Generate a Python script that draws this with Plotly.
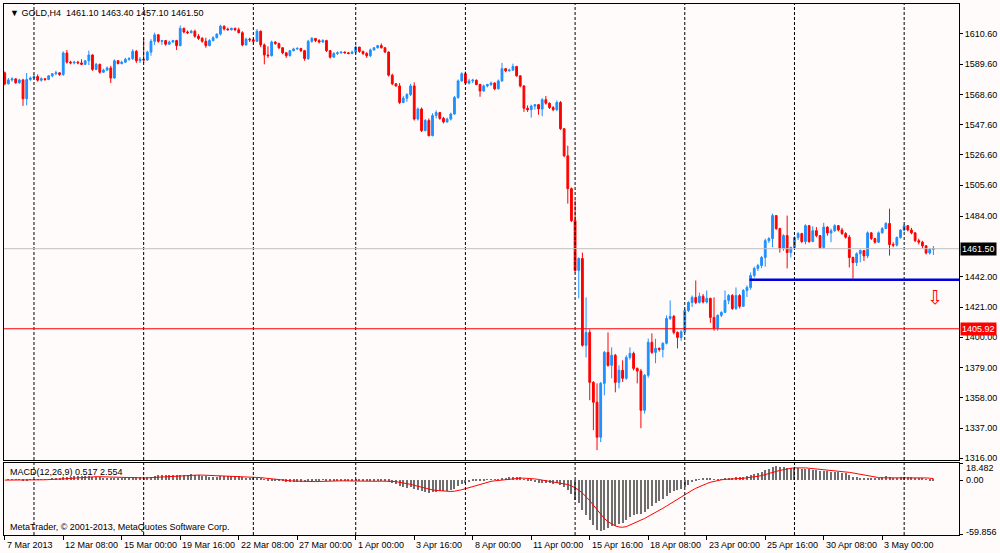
import plotly.graph_objects as go
import pandas as pd

# GOLD H4, 7 Mar 2013 .. 7 May 2013
first_open = 1583.6
close = [
    1576.0, 1578.7, 1579.4, 1576.7, 1578.7, 1565.6, 1579.0, 1580.0,
    # week of 11 Mar
    1581.0, 1578.5, 1579.5, 1579.0, 1581.5, 1583.0, 1583.6, 1582.5, 1597.4, 1591.0,
    1590.5, 1591.0, 1590.5, 1589.5, 1592.0, 1596.0, 1586.0, 1589.5, 1584.0, 1585.5,
    1587.0, 1580.0, 1592.0, 1590.0, 1591.0, 1593.0, 1593.5, 1598.5, 1592.0, 1593.0,
    # week of 18 Mar
    1592.5, 1598.0, 1605.5, 1610.0, 1605.5, 1606.0, 1603.5, 1605.0, 1606.0, 1602.5,
    1614.5, 1612.0, 1611.5, 1612.5, 1609.0, 1607.5, 1605.5, 1602.5, 1606.0, 1608.0,
    1610.5, 1616.0, 1614.0, 1613.5, 1614.5, 1613.5, 1611.5, 1603.0, 1607.0, 1606.5,
    # week of 25 Mar (Good Friday)
    1605.5, 1612.5, 1603.0, 1596.0, 1595.5, 1605.0, 1604.0, 1601.0, 1597.5, 1595.5,
    1599.0, 1600.2, 1600.5, 1599.0, 1593.5, 1605.5, 1607.5, 1606.0, 1605.0, 1606.0,
    1599.0, 1594.5, 1597.0, 1597.5, 1598.0, 1597.5, 1597.0, 1598.0,
    # week of 1 Apr
    1601.5, 1598.5, 1597.0, 1595.5, 1599.5, 1601.0, 1602.5, 1601.0, 1598.0, 1582.0,
    1576.0, 1574.5, 1563.0, 1566.0, 1568.5, 1574.5, 1551.5, 1558.5, 1543.5, 1550.5,
    1540.0, 1554.0, 1556.0, 1552.0, 1549.5, 1551.5, 1555.0, 1566.5, 1578.0, 1583.0,
    # week of 8 Apr
    1576.5, 1578.0, 1578.5, 1575.5, 1571.0, 1574.5, 1575.5, 1576.5, 1572.5, 1578.0,
    1586.5, 1585.0, 1585.5, 1588.0, 1581.5, 1574.5, 1559.0, 1558.0, 1560.5, 1561.5,
    1558.5, 1565.0, 1562.5, 1559.5, 1558.0, 1563.0, 1544.8, 1526.0, 1503.2, 1481.0,
    # week of 15 Apr
    1446.4, 1454.7, 1394.4, 1403.4, 1368.7, 1354.9, 1330.6, 1368.0, 1389.5, 1380.5,
    1387.5, 1368.7, 1377.1, 1371.5, 1386.0, 1388.8, 1378.4, 1376.5, 1349.3, 1373.6,
    1396.5, 1389.5, 1392.3, 1391.5, 1395.8, 1413.1, 1414.5, 1403.4, 1399.9, 1403.8,
    # week of 22 Apr
    1418.6, 1424.2, 1427.7, 1424.2, 1428.5, 1424.5, 1427.0, 1413.8, 1406.5, 1415.2,
    1417.3, 1425.6, 1429.0, 1420.0, 1429.0, 1421.5, 1432.5, 1434.6, 1442.9, 1447.8,
    1449.8, 1455.4, 1467.1, 1468.5, 1484.5, 1475.5, 1461.6, 1470.6, 1458.8, 1462.3,
    # week of 29 Apr
    1469.2, 1472.0, 1466.5, 1477.5, 1466.5, 1474.0, 1470.6, 1462.3, 1476.5, 1472.4,
    1474.0, 1477.5, 1474.5, 1472.0, 1469.5, 1455.4, 1451.9, 1458.0, 1460.2, 1456.5,
    1472.5, 1468.5, 1466.0, 1472.5, 1475.5, 1479.0, 1464.4, 1464.0, 1469.2, 1474.4,
    # week of 6 May
    1477.5, 1474.5, 1472.5, 1467.1, 1466.0, 1463.5, 1458.5, 1461.1, 1461.5,
]
high = [
    1584.5, 1580.0, 1580.5, 1580.0, 1579.5, 1579.5, 1583.5, 1581.0,
    1582.5, 1582.5, 1580.5, 1580.0, 1582.0, 1583.5, 1585.0, 1584.0, 1598.5, 1599.5,
    1592.0, 1592.0, 1592.0, 1593.0, 1592.5, 1599.0, 1596.5, 1590.5, 1590.0, 1586.5,
    1588.0, 1588.5, 1593.0, 1592.5, 1592.0, 1594.0, 1594.5, 1600.0, 1599.5, 1594.5,
    1607.5, 1599.0, 1607.0, 1611.5, 1610.5, 1606.5, 1606.5, 1606.0, 1606.5, 1606.5,
    1616.5, 1615.0, 1613.0, 1613.5, 1613.5, 1610.5, 1608.5, 1608.0, 1607.0, 1609.0,
    1611.0, 1617.0, 1616.5, 1615.0, 1615.0, 1615.0, 1615.0, 1612.5, 1608.0, 1608.0,
    1607.5, 1614.0, 1613.0, 1604.0, 1602.0, 1606.0, 1605.5, 1604.5, 1601.5, 1598.0,
    1599.5, 1601.0, 1601.5, 1601.0, 1599.5, 1606.5, 1608.5, 1607.5, 1607.0, 1607.0,
    1606.5, 1599.5, 1598.0, 1598.5, 1598.5, 1598.5, 1598.0, 1599.0,
    1602.5, 1601.5, 1599.0, 1598.0, 1600.5, 1601.5, 1603.0, 1604.0, 1601.5, 1598.5,
    1583.0, 1576.5, 1576.5, 1567.5, 1569.5, 1576.0, 1577.0, 1559.5, 1559.5, 1551.5,
    1552.0, 1555.5, 1557.5, 1556.5, 1553.0, 1552.5, 1556.0, 1567.5, 1579.0, 1584.0,
    1584.5, 1579.5, 1579.5, 1579.0, 1576.0, 1575.5, 1576.0, 1577.5, 1577.0, 1579.0,
    1590.5, 1587.0, 1586.5, 1590.0, 1588.5, 1582.0, 1575.0, 1561.0, 1561.5, 1562.0,
    1562.0, 1566.0, 1567.5, 1563.0, 1560.5, 1564.5, 1564.0, 1545.0, 1533.0, 1504.0,
    1495.0, 1455.5, 1458.8, 1427.7, 1405.5, 1369.5, 1368.0, 1369.0, 1390.5, 1403.4,
    1393.0, 1388.5, 1380.5, 1384.0, 1387.5, 1393.0, 1390.0, 1379.0, 1378.0, 1374.5,
    1399.1, 1402.7, 1399.0, 1393.0, 1396.5, 1415.2, 1425.6, 1415.5, 1404.0, 1405.0,
    1420.0, 1425.0, 1429.0, 1439.4, 1431.0, 1430.0, 1432.5, 1427.5, 1427.7, 1416.0,
    1418.0, 1432.5, 1430.0, 1430.0, 1434.6, 1430.0, 1433.5, 1436.0, 1445.0, 1449.0,
    1451.0, 1456.5, 1468.5, 1469.5, 1485.9, 1484.5, 1476.0, 1471.5, 1484.5, 1463.0,
    1470.0, 1473.0, 1472.5, 1478.5, 1478.0, 1477.0, 1476.5, 1471.0, 1479.5, 1477.0,
    1475.5, 1478.5, 1478.0, 1476.0, 1473.0, 1471.0, 1456.0, 1459.0, 1461.0, 1459.0,
    1473.5, 1473.0, 1469.0, 1473.5, 1476.5, 1480.0, 1489.3, 1466.0, 1470.0, 1475.0,
    1478.5, 1478.0, 1476.0, 1473.0, 1468.5, 1467.0, 1464.0, 1462.0, 1463.4,
]
low = [
    1575.0, 1575.5, 1577.5, 1576.0, 1576.0, 1560.7, 1561.0, 1578.0,
    1579.0, 1577.5, 1577.5, 1578.0, 1578.5, 1580.5, 1582.0, 1581.5, 1581.5, 1590.0,
    1589.5, 1589.5, 1589.5, 1589.0, 1589.0, 1589.0, 1585.0, 1585.5, 1583.0, 1583.5,
    1585.0, 1576.5, 1579.5, 1589.5, 1589.5, 1590.5, 1592.0, 1592.5, 1590.5, 1590.5,
    1590.5, 1592.0, 1595.5, 1603.0, 1604.5, 1603.0, 1602.5, 1603.0, 1604.5, 1599.5,
    1602.0, 1611.0, 1610.5, 1611.0, 1608.0, 1606.5, 1604.5, 1601.0, 1602.0, 1605.5,
    1607.5, 1609.5, 1613.0, 1613.0, 1613.0, 1612.5, 1611.0, 1602.0, 1602.5, 1605.0,
    1604.0, 1605.0, 1601.5, 1589.5, 1594.0, 1595.0, 1603.0, 1600.0, 1596.5, 1594.0,
    1595.0, 1598.5, 1599.5, 1598.0, 1592.0, 1592.5, 1604.5, 1605.0, 1604.0, 1604.5,
    1598.0, 1593.5, 1594.0, 1596.0, 1597.0, 1597.0, 1596.5, 1596.5,
    1597.0, 1597.5, 1596.0, 1594.0, 1594.5, 1599.0, 1600.5, 1600.5, 1597.5, 1581.0,
    1575.0, 1574.0, 1562.0, 1562.5, 1563.5, 1567.5, 1550.5, 1550.5, 1542.5, 1543.0,
    1539.5, 1539.5, 1552.0, 1551.0, 1548.5, 1549.0, 1550.5, 1554.5, 1565.5, 1577.5,
    1575.5, 1575.5, 1576.5, 1575.0, 1567.0, 1570.5, 1573.5, 1574.5, 1571.5, 1572.0,
    1577.5, 1584.0, 1584.5, 1585.0, 1581.0, 1573.5, 1556.5, 1556.5, 1552.5, 1558.0,
    1554.5, 1553.5, 1561.5, 1558.5, 1557.0, 1557.0, 1544.0, 1525.0, 1492.8, 1480.0,
    1445.0, 1427.0, 1393.5, 1386.0, 1356.3, 1335.5, 1321.6, 1327.2, 1359.7, 1379.5,
    1371.5, 1361.8, 1364.5, 1369.0, 1370.5, 1384.5, 1377.0, 1368.0, 1336.9, 1347.0,
    1372.0, 1388.5, 1382.0, 1390.0, 1386.0, 1395.0, 1412.0, 1402.0, 1392.3, 1397.5,
    1403.0, 1417.5, 1421.0, 1423.0, 1423.5, 1423.5, 1423.5, 1410.0, 1404.5, 1404.5,
    1414.0, 1417.0, 1423.0, 1419.0, 1419.0, 1420.0, 1421.0, 1428.0, 1433.0, 1441.5,
    1446.0, 1448.0, 1449.0, 1465.5, 1462.5, 1474.5, 1458.8, 1460.0, 1447.8, 1455.4,
    1461.0, 1467.5, 1465.5, 1464.5, 1465.5, 1466.0, 1469.5, 1461.5, 1461.5, 1470.5,
    1466.0, 1473.0, 1473.5, 1471.0, 1468.5, 1448.5, 1440.8, 1449.5, 1452.0, 1453.0,
    1455.0, 1467.5, 1465.0, 1465.5, 1472.0, 1475.5, 1456.7, 1462.5, 1463.0, 1468.5,
    1473.5, 1473.5, 1471.5, 1466.0, 1464.5, 1462.0, 1457.5, 1457.5, 1457.1,
]
opens = [first_open] + close[:-1]
bars = list(range(len(close)))

# price axis labels
price_ticks = [1610.6, 1589.6, 1568.6, 1547.6, 1526.6, 1505.6, 1484.0,
               1442.0, 1421.0, 1400.0, 1379.0, 1358.0, 1337.0, 1316.0]
macd_top, macd_bottom = 18.482, -59.856

# date labels every 16 bars, week separators on Mondays
date_bars = [0, 16, 32, 48, 64, 80, 96, 112, 128, 144, 160, 176, 192, 208, 224, 240]
date_labels = ["7 Mar 2013", "12 Mar 08:00", "15 Mar 00:00", "19 Mar 16:00",
               "22 Mar 08:00", "27 Mar 00:00", "1 Apr 00:00", "3 Apr 16:00",
               "8 Apr 00:00", "11 Apr 00:00", "15 Apr 16:00", "18 Apr 08:00",
               "23 Apr 00:00", "25 Apr 16:00", "30 Apr 08:00", "3 May 00:00"]
week_bars = [8, 38, 68, 96, 126, 156, 186, 216, 246]

# objects drawn on the chart
bid = 1461.50
red_level = 1405.92
blue_level = 1440.0
blue_start = 204
arrow_bar, arrow_price = 254.5, 1428.0

# MACD(12,26,9) as MetaTrader computes it
s = pd.Series(close)
macd = s.ewm(span=12, adjust=False).mean() - s.ewm(span=26, adjust=False).mean()
signal = macd.rolling(9, min_periods=1).mean()

FONT = "Liberation Sans"
BG = "#FFFBFB"
x_range = [-0.2, 261]

fig = go.Figure()
fig.add_trace(go.Candlestick(
    x=bars, open=opens, high=high, low=low, close=close,
    increasing=dict(line=dict(color="#1E90FF", width=1), fillcolor="#1E90FF"),
    decreasing=dict(line=dict(color="#FF0000", width=1), fillcolor="#FF0000"),
    whiskerwidth=0, hoverinfo="skip", xaxis="x", yaxis="y",
))
fig.add_trace(go.Bar(
    x=bars, y=macd, width=0.55, marker=dict(color="#6E6E6E", line=dict(width=0)),
    xaxis="x2", yaxis="y2", hoverinfo="skip",
))
fig.add_trace(go.Scatter(
    x=bars, y=signal, mode="lines", line=dict(color="#FF0000", width=1),
    xaxis="x2", yaxis="y2", hoverinfo="skip",
))

shapes = []
for b in week_bars:
    shapes.append(dict(type="line", xref="x", yref="paper", x0=b, x1=b, y0=0, y1=1,
                       line=dict(color="black", width=1, dash="3px,2px")))
shapes.append(dict(type="line", xref="paper", yref="y", x0=0, x1=1, y0=bid, y1=bid,
                   line=dict(color="#C0C0C0", width=1)))
shapes.append(dict(type="line", xref="paper", yref="y", x0=0, x1=1, y0=red_level, y1=red_level,
                   line=dict(color="#FF0000", width=1)))
shapes.append(dict(type="line", xref="x", yref="y", x0=blue_start - 0.3, x1=x_range[1],
                   y0=blue_level, y1=blue_level, line=dict(color="#0000DD", width=2.5)))

ann = []
ann.append(dict(xref="paper", yref="paper", x=0, y=1, xanchor="left", yanchor="top",
                xshift=4, yshift=-2, showarrow=False,
                text="\u25bc GOLD,H4  1461.10 1463.40 1457.10 1461.50",
                font=dict(family=FONT, size=9, color="black")))
ann.append(dict(xref="paper", yref="y2", x=0, y=macd_top, xanchor="left", yanchor="top",
                xshift=4, yshift=-2, showarrow=False, text="MACD(12,26,9) 0.517 2.554",
                font=dict(family=FONT, size=9, color="black")))
ann.append(dict(xref="paper", yref="y2", x=0, y=macd_bottom, xanchor="left", yanchor="bottom",
                xshift=4, yshift=1, showarrow=False,
                text="MetaTrader, \u00a9 2001-2013, MetaQuotes Software Corp.",
                font=dict(family=FONT, size=9, color="black")))
ann.append(dict(xref="paper", yref="y", x=1, y=bid, xanchor="left", yanchor="middle",
                xshift=1, showarrow=False, text="1461.50", bgcolor="black", borderpad=1,
                font=dict(family=FONT, size=9, color="white")))
ann.append(dict(xref="paper", yref="y", x=1, y=red_level, xanchor="left", yanchor="middle",
                xshift=1, showarrow=False, text="%.2f" % red_level, bgcolor="#FF0000", borderpad=1,
                font=dict(family=FONT, size=9, color="white")))
for val, txt, shift in [(macd_top, "18.482", -5), (0, "0.00", 0), (macd_bottom, "-59.856", 3)]:
    ann.append(dict(xref="paper", yref="y2", x=1, y=val, xanchor="left", yanchor="middle",
                    xshift=5, yshift=shift, showarrow=False, text=txt,
                    font=dict(family=FONT, size=9, color="black")))
for b, txt in zip(date_bars, date_labels):
    ann.append(dict(xref="x2", yref="paper", x=b, y=0, xanchor="left", yanchor="top",
                    xshift=0, yshift=-3, showarrow=False, text=txt,
                    font=dict(family=FONT, size=9, color="black")))
ann.append(dict(xref="x", yref="y", x=arrow_bar, y=arrow_price, showarrow=False,
                text="\u21e9", font=dict(family="DejaVu Sans", size=19, color="#FF0000")))

axis_common = dict(showline=True, mirror=True, linecolor="black", linewidth=1,
                   showgrid=False, zeroline=False)

fig.update_layout(
    width=1000, height=553,
    margin=dict(l=3, r=39, t=3, b=18),
    paper_bgcolor=BG, plot_bgcolor=BG,
    showlegend=False, bargap=0,
    shapes=shapes, annotations=ann,
    xaxis=dict(domain=[0, 1], anchor="y", range=x_range, showticklabels=False,
               ticks="", rangeslider=dict(visible=False), **axis_common),
    xaxis2=dict(domain=[0, 1], anchor="y2", matches="x", range=x_range,
                tickvals=date_bars, showticklabels=False, ticks="outside",
                ticklen=4, tickcolor="black", **axis_common),
    yaxis=dict(domain=[0.141, 1], anchor="x", side="right", range=[1314.7, 1631.4],
               tickvals=price_ticks, ticktext=["%.2f" % v for v in price_ticks],
               ticks="outside", ticklen=3, tickcolor="black",
               tickfont=dict(family=FONT, size=9, color="black"), **axis_common),
    yaxis2=dict(domain=[0, 0.1353], anchor="x2", side="right",
                range=[macd_bottom, macd_top], tickvals=[macd_top, 0, macd_bottom],
                showticklabels=False, ticks="outside", ticklen=3, tickcolor="black",
                **axis_common),
)

# the page body has a default 8px margin; drop it so the chart sits at the window corner
fig.write_html("out.html", config={"displayModeBar": False},
               post_script="document.body.style.margin='0px';")
